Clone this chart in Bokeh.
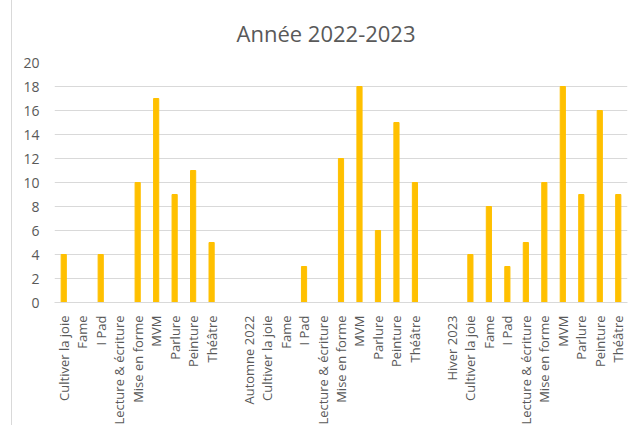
from bokeh.plotting import figure
from bokeh.models import Range1d, FixedTicker, ColumnDataSource
from bokeh.embed import file_html
from bokeh.resources import INLINE
import math

title_text = "Année 2022-2023"
labels = [
    "Cultiver la joie", "Fame", "I Pad", "Lecture & écriture", "Mise en forme", "MVM", "Parlure", "Peinture", "Théâtre",
    "",
    "Automne 2022", "Cultiver la joie", "Fame", "I Pad", "Lecture & écriture", "Mise en forme", "MVM", "Parlure", "Peinture", "Théâtre",
    "",
    "Hiver 2023", "Cultiver la joie", "Fame", "I Pad", "Lecture & écriture", "Mise en forme", "MVM", "Parlure", "Peinture", "Théâtre",
]
values = [
    4, 0, 4, 0, 10, 17, 9, 11, 5,
    0,
    0, 0, 0, 3, 0, 12, 18, 6, 15, 10,
    0,
    0, 4, 8, 3, 5, 10, 18, 9, 16, 9,
]
y_ticks = [0, 2, 4, 6, 8, 10, 12, 14, 16, 18, 20]

FONT = "Open Sans"
TXT = "#595959"
GRID = "#D9D9D9"
BAR = "#FFC000"

xs = list(range(len(labels)))
src = ColumnDataSource(dict(x=xs, top=values))

p = figure(frame_width=573, frame_height=240, output_backend="svg", toolbar_location=None,
           x_range=Range1d(-0.5, len(labels) - 0.5), y_range=Range1d(0, 20),
           min_border_left=42, min_border_right=13, min_border_top=62, min_border_bottom=122,
           title=title_text)
p.margin = (0, 0, 0, 11)
p.styles = {"border-left": "1px solid #D9D9D9", "border-bottom": "1px solid #D9D9D9"}

p.vbar(x="x", top="top", width=0.28, source=src, color=BAR)

p.title.align = "left"
p.title.offset = 182
p.title.text_font = FONT
p.title.text_font_size = "22px"
p.title.text_font_style = "normal"
p.title.text_color = TXT
p.title.standoff = 30

p.outline_line_color = None
p.background_fill_color = "white"
p.border_fill_color = "white"

p.xgrid.grid_line_color = None
p.ygrid.grid_line_color = GRID
p.ygrid.grid_line_width = 1.2

p.yaxis.ticker = FixedTicker(ticks=y_ticks)
p.yaxis.axis_line_color = None
p.yaxis.major_tick_line_color = None
p.yaxis.minor_tick_line_color = None
p.yaxis.major_label_text_font = FONT
p.yaxis.major_label_text_font_size = "14px"
p.yaxis.major_label_text_color = TXT
p.yaxis.major_label_standoff = 9

p.xaxis.ticker = FixedTicker(ticks=xs)
p.xaxis.major_label_overrides = {i: (lab if lab else " ") for i, lab in enumerate(labels)}
p.xaxis.major_label_orientation = math.pi / 2
p.xaxis.axis_line_color = GRID
p.xaxis.axis_line_width = 1.2
p.xaxis.major_tick_line_color = None
p.xaxis.minor_tick_line_color = None
p.xaxis.major_label_text_font = FONT
p.xaxis.major_label_text_font_size = "13px"
p.xaxis.major_label_text_color = TXT
p.xaxis.major_label_standoff = 7

open("out.html", "w").write(file_html(p, INLINE))
